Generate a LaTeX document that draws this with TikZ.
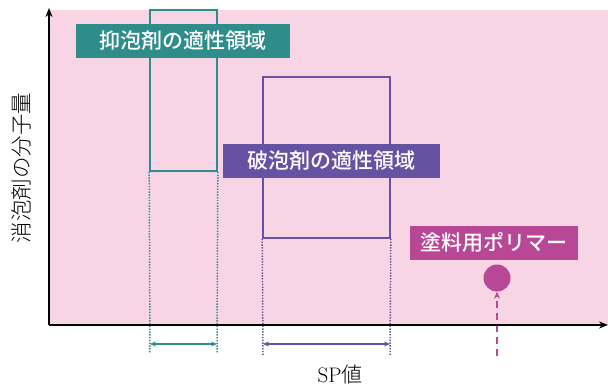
\documentclass[tikz,border=0pt]{standalone}
\usepackage{fontspec}
\newfontfamily\cjk{Noto Sans CJK JP Medium}
\newfontfamily\cjklight{Noto Sans CJK JP Light}
\usetikzlibrary{arrows.meta}
\definecolor{bgpink}{RGB}{248,213,229}
\definecolor{teal1}{RGB}{46,140,138}
\definecolor{purp1}{RGB}{102,82,162}
\definecolor{mag1}{RGB}{184,72,150}
\tikzset{
  labelbox/.style={inner sep=0pt, minimum height=34pt, text=white, font=\cjk\fontsize{21}{21}\selectfont},
  rangebox/.style={draw, line width=1.6pt},
  guide/.style={line width=1.5pt, dash pattern=on 1.4pt off 1.4pt},
  span/.style={line width=1.6pt, {Stealth[length=6pt,width=5pt]}-{Stealth[length=6pt,width=5pt]}},
  axisline/.style={line width=2.4pt, -{Stealth[length=9pt,width=7pt]}}
}
\begin{document}
\begin{tikzpicture}[x=1pt,y=-1pt]
\useasboundingbox (0,0) rectangle (608,385);
\fill[bgpink] (49,10) rectangle (608,325);
% teal range
\node[rangebox, draw=teal1, minimum width=67pt, minimum height=161pt, inner sep=0pt] (tbox) at (183.5,90.5) {};
\coordinate (tl) at (150,353);
\coordinate (tr) at (217,353);
\draw[guide, teal1] (tbox.south west) -- (tl);
\draw[guide, teal1] (tbox.south east) -- (tr);
\coordinate (tal) at (150,344);
\coordinate (tar) at (217,344);
\draw[span, teal1] (tal) -- (tar);
% purple range
\node[rangebox, draw=purp1, minimum width=127pt, minimum height=161pt, inner sep=0pt] (pbox) at (326.5,157.5) {};
\coordinate (pl) at (263,355);
\coordinate (pr) at (390,355);
\draw[guide, purp1] (pbox.south west) -- (pl);
\draw[guide, purp1] (pbox.south east) -- (pr);
\coordinate (pal) at (263,344);
\coordinate (par) at (390,344);
\draw[span, purp1] (pal) -- (par);
% labels
\node[labelbox, fill=teal1, minimum width=214pt] (tlab) at (183,41) {抑泡剤の適性領域};
\node[labelbox, fill=purp1, minimum width=217pt] (plab) at (331.5,161) {破泡剤の適性領域};
\node[labelbox, fill=mag1, minimum width=168pt] (mlab) at (494,242.5) {塗料用ポリマー};
% polymer point
\node[circle, fill=mag1, minimum size=27pt, inner sep=0pt] (pt) at (497,278) {};
\coordinate (pb) at (497,356);
\draw[mag1, line width=2pt, dash pattern=on 7pt off 5pt, -{Stealth[length=7pt,width=6pt]}] (pb) -- (pt.south);
% axes
\coordinate (o) at (49,325);
\coordinate (ytop) at (49,8);
\coordinate (xend) at (608,325);
\draw[axisline] (o) -- (ytop);
\draw[axisline] (o) -- (xend);
% axis labels
\node[rotate=90, font=\cjklight\fontsize{21.5}{21.5}\selectfont] (ylab) at (21,168) {消泡剤の分子量};
\node[font=\fontsize{21}{21}\selectfont] (xlab) at (340,374) {SP{\cjklight 値}};
\end{tikzpicture}
\end{document}
